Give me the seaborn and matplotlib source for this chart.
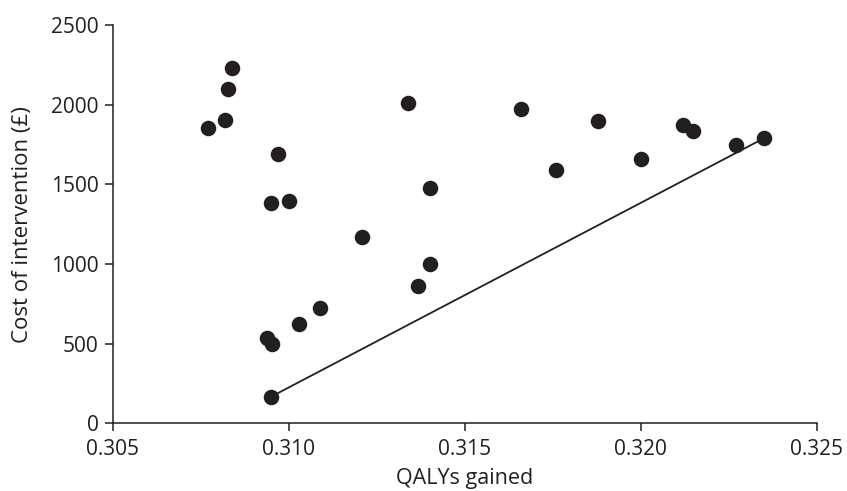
import matplotlib
matplotlib.use("Agg")
import matplotlib.pyplot as plt
import seaborn as sns
import pandas as pd

# QALYs gained and cost of each intervention strategy
qalys = [0.3077, 0.30819, 0.30828, 0.30839, 0.30970, 0.30950, 0.31000,
         0.30937, 0.30952, 0.30950, 0.31029, 0.31089, 0.31209, 0.31340,
         0.31400, 0.31400, 0.31368, 0.31660, 0.31759, 0.31878, 0.32000,
         0.32119, 0.32149, 0.32270, 0.32350]
costs = [1852, 1904, 2097, 2228, 1689, 1385, 1395,
         537, 496, 167, 621, 726, 1170, 2013,
         1479, 1002, 862, 1971, 1590, 1900, 1661,
         1871, 1837, 1745, 1789]

# Efficiency frontier endpoints
frontier_qalys = [0.30950, 0.32350]
frontier_costs = [167, 1789]

x_ticks = [0.305, 0.310, 0.315, 0.320, 0.325]
x_tick_labels = ["0.305", "0.310", "0.315", "0.320", "0.325"]
y_ticks = [0, 500, 1000, 1500, 2000, 2500]

sns.set_theme(style="ticks")
ink = "#231f20"
plt.rcParams["font.family"] = ["Open Sans", "DejaVu Sans"]
plt.rcParams.update({
    "axes.edgecolor": ink,
    "axes.linewidth": 1.1,
    "xtick.color": ink,
    "ytick.color": ink,
    "xtick.major.size": 6,
    "ytick.major.size": 6,
    "xtick.major.width": 1.1,
    "ytick.major.width": 1.1,
    "text.color": ink,
    "axes.labelcolor": ink,
})

fig = plt.figure(figsize=(8.47, 4.91), dpi=100)
ax = fig.add_axes([0.1331, 0.1379, 0.8311, 0.8111])

df = pd.DataFrame({"qalys": qalys, "cost": costs})
front = pd.DataFrame({"qalys": frontier_qalys, "cost": frontier_costs})

sns.lineplot(data=front, x="qalys", y="cost", ax=ax, color=ink, linewidth=1.3)
sns.scatterplot(data=df, x="qalys", y="cost", ax=ax, color=ink, s=125,
                linewidth=0, zorder=3, clip_on=False)

ax.set_xlim(0.305, 0.325)
ax.set_ylim(0, 2500)
ax.set_xticks(x_ticks)
ax.set_xticklabels(x_tick_labels)
ax.set_yticks(y_ticks)
ax.tick_params(axis="x", labelsize=15, pad=5)
ax.tick_params(axis="y", labelsize=15, pad=4)
ax.set_xlabel("QALYs gained", fontsize=15.5, labelpad=6)
ax.set_ylabel("Cost of intervention (£)", fontsize=16, labelpad=13)
sns.despine(ax=ax)

fig.savefig("out.png", dpi=100)
